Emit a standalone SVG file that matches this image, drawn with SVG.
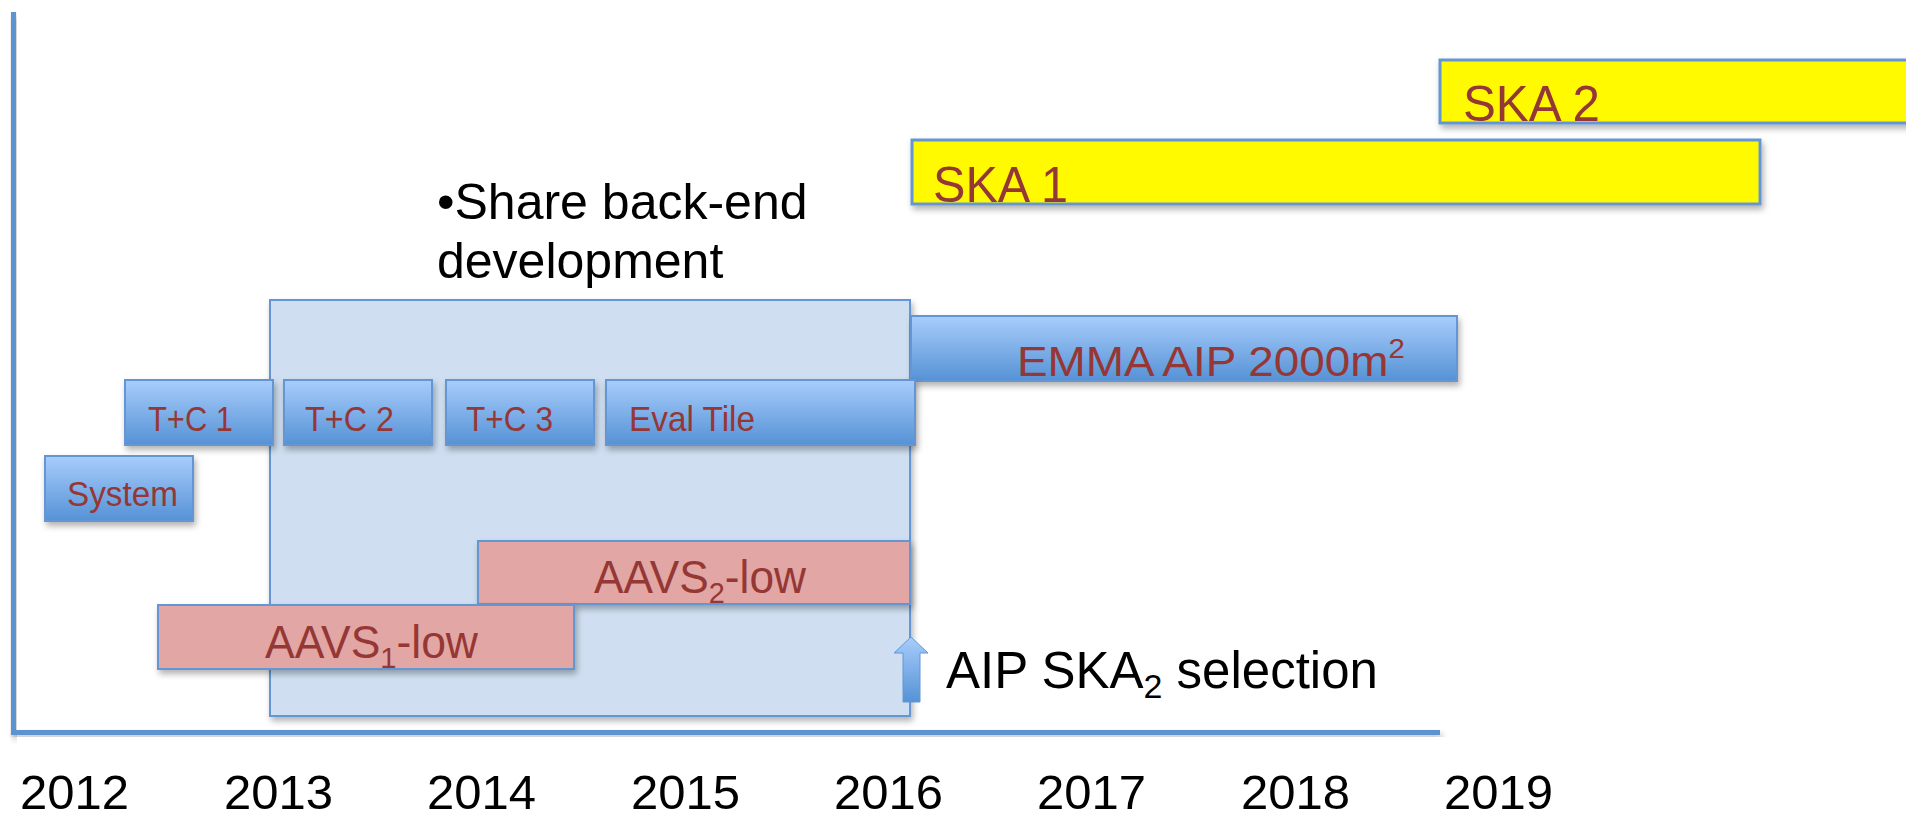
<svg xmlns="http://www.w3.org/2000/svg" width="1906" height="814" viewBox="0 0 1906 814">
<defs>
<linearGradient id="gBlue" x1="0" y1="0" x2="0" y2="1">
<stop offset="0" stop-color="#a8cdfb"/>
<stop offset="1" stop-color="#5592d6"/>
</linearGradient>
<filter id="sh" x="-10%" y="-20%" width="130%" height="160%">
<feDropShadow dx="2" dy="4" stdDeviation="3" flood-color="#000" flood-opacity="0.3"/>
</filter>
<style>
.blue{fill:url(#gBlue);stroke:#6496d2;stroke-width:2;filter:url(#sh)}
.pink{fill:#e2a6a4;stroke:#6496d2;stroke-width:2;filter:url(#sh)}
.yel{fill:#fffa00;stroke:#6496d2;stroke-width:3;filter:url(#sh)}
.big{fill:#cfdff1;stroke:#6496d2;stroke-width:2;filter:url(#sh)}
.lbl{font-family:"Liberation Sans",Arial,sans-serif;fill:#953735}
.blk{font-family:"Liberation Sans",Arial,sans-serif;fill:#000}
.axis{fill:#5b93d0;filter:url(#sh)}
</style>
</defs>
<rect width="1906" height="814" fill="#fff"/>
<g id="axes">
<rect class="axis" x="11" y="12" width="5" height="723"/>
<rect class="axis" x="11" y="730" width="1429" height="5"/>
</g>
<g id="years" class="blk" font-size="49">
<text x="20" y="809">2012</text>
<text x="224" y="809">2013</text>
<text x="427" y="809">2014</text>
<text x="631" y="809">2015</text>
<text x="834" y="809">2016</text>
<text x="1037" y="809">2017</text>
<text x="1241" y="809">2018</text>
<text x="1444" y="809">2019</text>
</g>
<g id="ska2">
<rect class="yel" x="1440" y="60" width="470" height="63"/>
<text class="lbl" x="1463" y="121" font-size="50" textLength="137" lengthAdjust="spacingAndGlyphs">SKA 2</text>
</g>
<g id="ska1">
<rect class="yel" x="912" y="140" width="848" height="64"/>
<text class="lbl" x="933" y="202" font-size="50" textLength="135" lengthAdjust="spacingAndGlyphs">SKA 1</text>
</g>
<g id="share-note">
<text class="blk" x="437" y="219" font-size="50">•Share back-end</text>
<text class="blk" x="437" y="278" font-size="50">development</text>
</g>
<g id="shared-backend">
<rect class="big" x="270" y="300" width="640" height="416"/>
</g>
<g id="emma">
<rect class="blue" x="911" y="316" width="546" height="65"/>
<text class="lbl" x="1017" y="376" font-size="42" textLength="388" lengthAdjust="spacingAndGlyphs">EMMA AIP 2000m<tspan font-size="27" dy="-18">2</tspan></text>
</g>
<g id="tc1">
<rect class="blue" x="125" y="380" width="148" height="65"/>
<text class="lbl" x="148" y="431" font-size="35" textLength="85" lengthAdjust="spacingAndGlyphs">T+C 1</text>
</g>
<g id="tc2">
<rect class="blue" x="284" y="380" width="148" height="65"/>
<text class="lbl" x="305" y="431" font-size="35" textLength="89" lengthAdjust="spacingAndGlyphs">T+C 2</text>
</g>
<g id="tc3">
<rect class="blue" x="446" y="380" width="148" height="65"/>
<text class="lbl" x="466" y="431" font-size="35" textLength="87" lengthAdjust="spacingAndGlyphs">T+C 3</text>
</g>
<g id="evaltile">
<rect class="blue" x="606" y="380" width="309" height="65"/>
<text class="lbl" x="629" y="431" font-size="35" textLength="126" lengthAdjust="spacingAndGlyphs">Eval Tile</text>
</g>
<g id="system">
<rect class="blue" x="45" y="456" width="148" height="65"/>
<text class="lbl" x="67" y="506" font-size="35" textLength="111" lengthAdjust="spacingAndGlyphs">System</text>
</g>
<g id="aavs2">
<rect class="pink" x="478" y="541" width="432" height="63"/>
<text class="lbl" x="594" y="593" font-size="46" textLength="212" lengthAdjust="spacingAndGlyphs">AAVS<tspan font-size="30" dy="10">2</tspan><tspan dy="-10">-low</tspan></text>
</g>
<g id="aavs1">
<rect class="pink" x="158" y="605" width="416" height="64"/>
<text class="lbl" x="265" y="658" font-size="46" textLength="213" lengthAdjust="spacingAndGlyphs">AAVS<tspan font-size="30" dy="10">1</tspan><tspan dy="-10">-low</tspan></text>
</g>
<g id="selection">
<polygon points="911,637 894,653 903,653 903,702 920,702 920,653 928,653" fill="url(#gBlue)" stroke="#6496d2" stroke-width="1"/>
<text class="blk" x="946" y="688" font-size="51">AIP SKA<tspan font-size="34" dy="10">2</tspan><tspan dy="-10"> selection</tspan></text>
</g>
</svg>
